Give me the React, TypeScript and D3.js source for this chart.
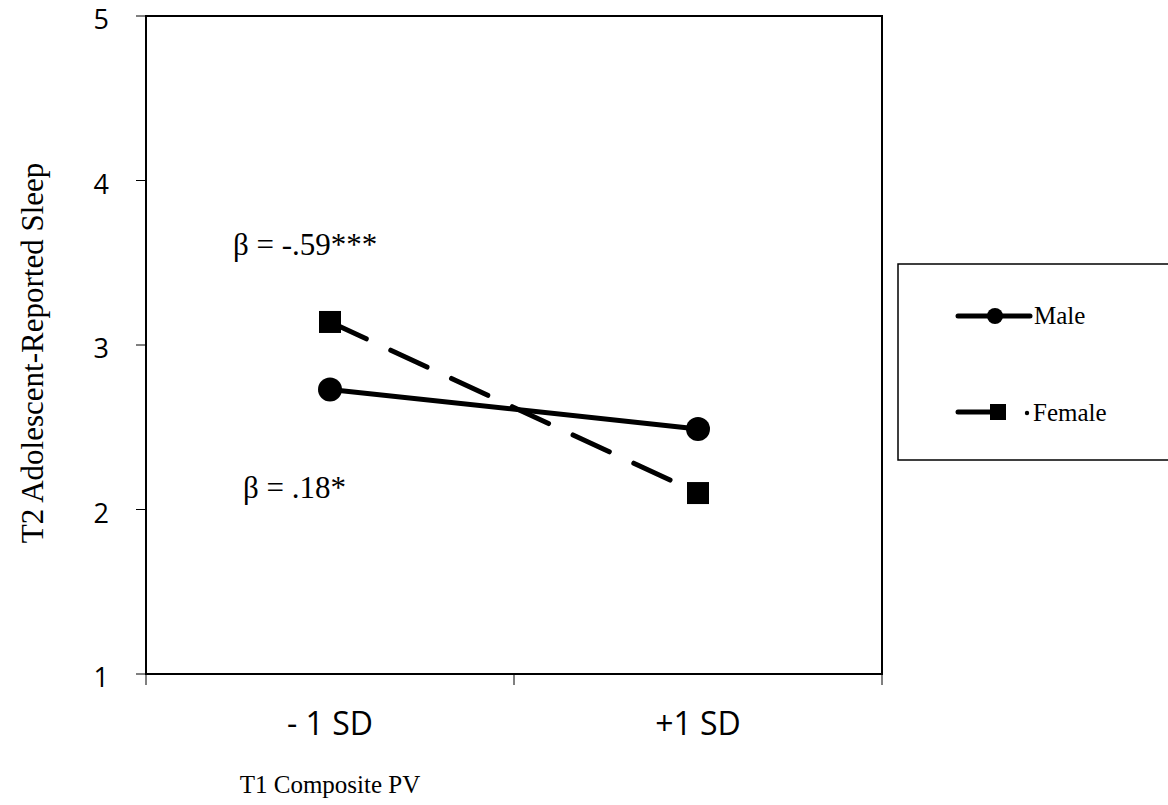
import { useEffect, useRef } from 'react'
import * as d3 from 'd3'

const categories = ['- 1 SD', '+1 SD']
const maleValues = [2.73, 2.49]
const femaleValues = [3.14, 2.1]
const yTicks = [1, 2, 3, 4, 5]
const betaLabels = ['β = -.59***', 'β = .18*']
const seriesNames = ['Male', 'Female']

const W = 1168
const H = 805

export default function App() {
  const svgRef = useRef<SVGSVGElement>(null)

  useEffect(() => {
    if (!svgRef.current) return
    const svg = d3.select(svgRef.current)
    svg.selectAll('*').remove()

    const left = 146, right = 882, top = 16, bottom = 674
    const x = d3.scaleBand<string>().domain(categories).range([left, right])
    const y = d3.scaleLinear().domain([1, 5]).range([bottom, top])
    const cx = (c: string) => (x(c) as number) + x.bandwidth() / 2

    const sans = '"Open Sans", sans-serif'
    const serif = '"Liberation Serif", "Times New Roman", serif'

    // plot frame
    svg.append('rect')
      .attr('x', left).attr('y', top)
      .attr('width', right - left).attr('height', bottom - top)
      .attr('fill', 'none').attr('stroke', '#000').attr('stroke-width', 2)

    // y ticks
    const yg = svg.append('g')
    yTicks.forEach(t => {
      yg.append('line')
        .attr('x1', left - 10).attr('x2', left)
        .attr('y1', y(t)).attr('y2', y(t))
        .attr('stroke', '#000').attr('stroke-width', 1)
      yg.append('text')
        .attr('x', 109).attr('y', y(t) + 13)
        .attr('text-anchor', 'end')
        .style('font-family', sans).style('font-size', '27px')
        .text(t)
    })

    // x ticks at band edges
    const edges = [left, ...categories.map(c => (x(c) as number) + x.bandwidth())]
    edges.forEach(e => {
      svg.append('line')
        .attr('x1', e).attr('x2', e)
        .attr('y1', bottom).attr('y2', bottom + 11)
        .attr('stroke', '#000').attr('stroke-width', 1)
    })
    categories.forEach(c => {
      svg.append('text')
        .attr('x', cx(c)).attr('y', 735)
        .attr('text-anchor', 'middle')
        .style('font-family', sans).style('font-size', '32px')
        .text(c)
    })

    // axis titles
    svg.append('text')
      .attr('transform', `translate(43,${(top + bottom) / 2 + 8}) rotate(-90)`)
      .attr('text-anchor', 'middle')
      .style('font-family', serif).style('font-size', '31px')
      .text('T2 Adolescent-Reported Sleep')
    svg.append('text')
      .attr('x', cx(categories[0])).attr('y', 793)
      .attr('text-anchor', 'middle')
      .style('font-family', serif).style('font-size', '25px')
      .text('T1 Composite PV')

    const line = d3.line<number>()
      .x((_, i) => cx(categories[i]))
      .y(d => y(d))

    // female (dashed, squares)
    svg.append('path')
      .attr('d', line(femaleValues))
      .attr('fill', 'none').attr('stroke', '#000').attr('stroke-width', 5)
      .attr('stroke-dasharray', '40 27').attr('stroke-linecap', 'round')
    femaleValues.forEach((v, i) => {
      svg.append('rect')
        .attr('x', cx(categories[i]) - 11).attr('y', y(v) - 11)
        .attr('width', 22).attr('height', 22).attr('fill', '#000')
    })

    // male (solid, circles)
    svg.append('path')
      .attr('d', line(maleValues))
      .attr('fill', 'none').attr('stroke', '#000').attr('stroke-width', 5)
    maleValues.forEach((v, i) => {
      svg.append('circle')
        .attr('cx', cx(categories[i])).attr('cy', y(v)).attr('r', 12)
        .attr('fill', '#000')
    })

    // beta annotations
    svg.append('text')
      .attr('x', 233).attr('y', 255)
      .style('font-family', serif).style('font-size', '31px')
      .text(betaLabels[0])
    svg.append('text')
      .attr('x', 243).attr('y', 498)
      .style('font-family', serif).style('font-size', '31px')
      .text(betaLabels[1])

    // legend
    const lg = svg.append('g')
    lg.append('rect')
      .attr('x', 898).attr('y', 264).attr('width', 290).attr('height', 196)
      .attr('fill', '#fff').attr('stroke', '#000').attr('stroke-width', 1.5)
    lg.append('line')
      .attr('x1', 958).attr('x2', 1030).attr('y1', 316).attr('y2', 316)
      .attr('stroke', '#000').attr('stroke-width', 5).attr('stroke-linecap', 'round')
    lg.append('circle').attr('cx', 995).attr('cy', 316).attr('r', 8).attr('fill', '#000')
    lg.append('text')
      .attr('x', 1034).attr('y', 324)
      .style('font-family', serif).style('font-size', '25px')
      .text(seriesNames[0])
    lg.append('line')
      .attr('x1', 958).attr('x2', 1000).attr('y1', 412).attr('y2', 412)
      .attr('stroke', '#000').attr('stroke-width', 5).attr('stroke-linecap', 'round')
    lg.append('rect').attr('x', 990).attr('y', 404).attr('width', 16).attr('height', 16).attr('fill', '#000')
    lg.append('circle').attr('cx', 1027).attr('cy', 413).attr('r', 2.2).attr('fill', '#000')
    lg.append('text')
      .attr('x', 1033).attr('y', 421)
      .style('font-family', serif).style('font-size', '25px')
      .text(seriesNames[1])
  }, [])

  return (
    <svg
      ref={svgRef}
      width={W}
      height={H}
      style={{ position: 'absolute', left: 0, top: 0, background: '#fff' }}
    />
  )
}
